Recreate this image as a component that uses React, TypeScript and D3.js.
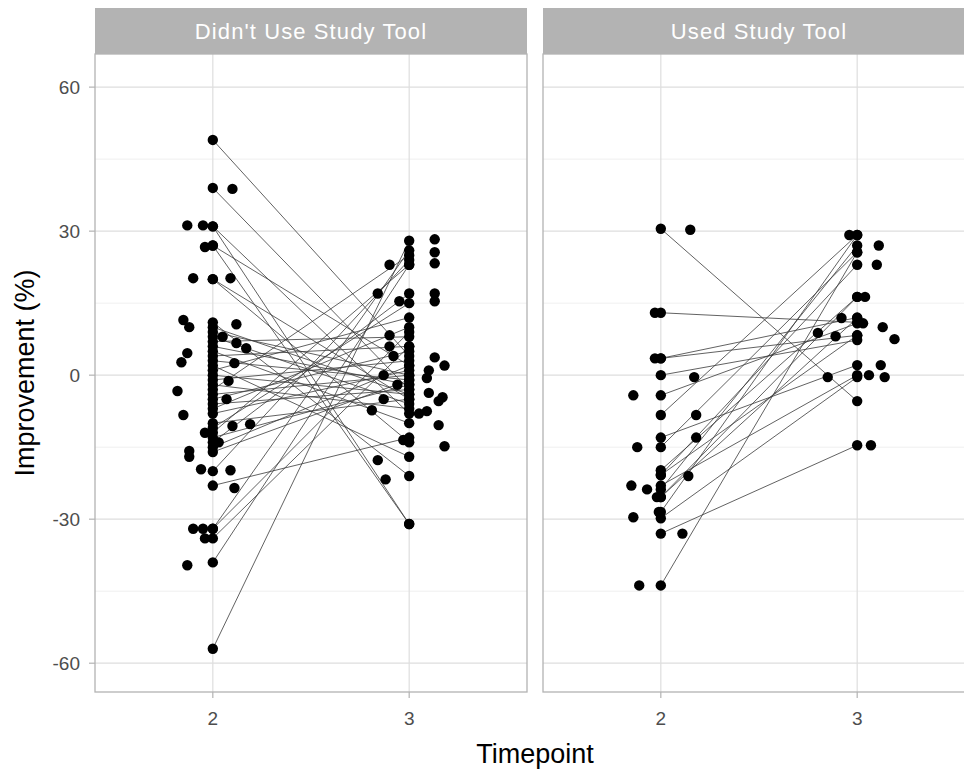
import React, { useEffect, useRef } from 'react';
import * as d3 from 'd3';

// facet labels
const facets = ["Didn't Use Study Tool", 'Used Study Tool'];
const timepoints = [2, 3];
const yTicks = [-60, -30, 0, 30, 60];
const yMinor = [-45, -15, 15, 45];

// paired observations [timepoint 2, timepoint 3] (lines + points at exact x)
const noToolPairs: [number, number][] = [
  [49, 4], [39, -3], [31, -31], [31, -8], [27, -31], [27, 2], [20, -14], [20, -5],
  [11, -21], [10, -4], [9, 0], [8, -6], [7, 8], [6, -2], [5, -10], [4, 6],
  [3, -1], [2, -17], [1, 12], [0, -4], [-1, 3], [-2, -7], [-3, 25], [-4, 0],
  [-5, 5], [-6, -3], [-7, 10], [-8, 1], [-10, -5], [-11, 15], [-12, 23], [-13, -2],
  [-14, 17], [-15, 2], [-16, -1], [-20, 24], [-23, -13], [-32, 26], [-32, 9],
  [-34, 6], [-39, 23], [-57, 28],
];
const toolPairs: [number, number][] = [
  [30.5, -5.4], [13, 11], [3.5, 8.3], [3.5, 12], [0, 7.3], [-4.2, 10.8], [-8.3, 29.2],
  [-13, 2.1], [-15, 25.6], [-19.8, 16.3], [-20.8, 23], [-23, 0], [-23.8, 27],
  [-25.4, 16.3], [-25.4, 11.9], [-28.5, 29.2], [-29.8, -0.4], [-33, -14.6],
  [-43.8, 25.6], [-20.8, 8.3],
];

// jittered observations [offset from timepoint, value]
const noToolJitter2: [number, number][] = [
  [-0.13, 31.2], [-0.05, 31.2], [0.1, 38.8], [-0.04, 26.7], [-0.1, 20.2], [0.09, 20.2],
  [-0.15, 11.5], [-0.12, 10], [0.12, 10.6], [0.12, 6.7], [0.17, 5.6], [-0.13, 4.6],
  [-0.16, 2.7], [0.11, 2.5], [0.08, -1.2], [-0.18, -3.3], [-0.15, -8.3], [0.1, -10.6],
  [0.19, -10.2], [-0.12, -15.8], [-0.12, -17], [-0.06, -19.6], [0.09, -19.8],
  [0.11, -23.5], [-0.1, -32], [-0.05, -32], [-0.04, -34], [-0.13, -39.6], [0.05, 8],
  [0.07, -5], [-0.04, -12], [0.03, -14],
];
const noToolJitter3: [number, number][] = [
  [0.13, 28.3], [0.13, 25.6], [0.13, 23.3], [0.13, 17], [0.13, 15.4], [-0.1, 23],
  [-0.16, 17], [-0.05, 15.4], [-0.1, 8.3], [0.13, 3.7], [0.18, 2], [0.1, 1],
  [0.09, -0.6], [0.1, -3.7], [0.17, -4.6], [0.15, -5.4], [0.09, -7.5], [0.15, -10.4],
  [0.18, -14.8], [-0.16, -17.7], [-0.12, -21.7], [-0.19, -7.3], [-0.13, 0],
  [-0.06, -2], [-0.1, 6], [-0.13, -5], [-0.03, -13.5], [-0.08, 4], [0.05, -8],
];
const toolJitter2: [number, number][] = [
  [0.15, 30.3], [-0.03, 13], [-0.03, 3.5], [0.17, -0.4], [-0.14, -4.2], [0.18, -8.3],
  [0.18, -13], [-0.12, -15], [0.14, -21], [-0.15, -23], [-0.07, -23.8], [-0.02, -25.4],
  [-0.14, -29.6], [0.11, -33], [-0.11, -43.8], [-0.01, -28.5],
];
const toolJitter3: [number, number][] = [
  [-0.04, 29.2], [0.11, 27], [0.1, 23], [0.04, 16.3], [-0.08, 11.9], [-0.2, 8.8],
  [-0.11, 8.1], [0.13, 10], [0.19, 7.5], [0.12, 2.1], [0.06, 0], [0.14, -0.4],
  [-0.15, -0.4], [0.07, -14.6], [0.03, 10.8],
];

const panels = [
  { label: facets[0], pairs: noToolPairs, jitter: [noToolJitter2, noToolJitter3] },
  { label: facets[1], pairs: toolPairs, jitter: [toolJitter2, toolJitter3] },
];

export default function App() {
  const ref = useRef<SVGSVGElement>(null);

  useEffect(() => {
    const svg = d3.select(ref.current);
    svg.selectAll('*').remove();

    const font = '"Liberation Sans", Arial, sans-serif';
    const top = 54, bottom = 692, stripTop = 8;
    const panelX = [95, 543];
    const panelW = 432;

    const y = d3.scaleLinear().domain([-66, 66.9]).range([bottom, top]);

    panels.forEach((p, i) => {
      const x0 = panelX[i];
      const x = d3.scaleLinear().domain([1.4, 3.6]).range([x0, x0 + panelW]);
      const g = svg.append('g');

      // strip
      g.append('rect').attr('x', x0).attr('y', stripTop)
        .attr('width', panelW).attr('height', top - stripTop).attr('fill', '#b3b3b3');
      g.append('text').attr('x', x0 + panelW / 2).attr('y', (stripTop + top) / 2)
        .attr('dy', '0.35em').attr('text-anchor', 'middle')
        .attr('fill', '#ffffff').style('font-family', font).style('font-size', '22px')
        .style('letter-spacing', '1.1px')
        .text(p.label);

      // grid
      g.selectAll('.minor').data(yMinor).join('line')
        .attr('x1', x0).attr('x2', x0 + panelW)
        .attr('y1', d => y(d)).attr('y2', d => y(d))
        .attr('stroke', '#ebebeb').attr('stroke-width', 0.8);
      g.selectAll('.major').data(yTicks).join('line')
        .attr('x1', x0).attr('x2', x0 + panelW)
        .attr('y1', d => y(d)).attr('y2', d => y(d))
        .attr('stroke', '#dedede').attr('stroke-width', 1.2);
      g.selectAll('.vmajor').data(timepoints).join('line')
        .attr('x1', d => x(d)).attr('x2', d => x(d))
        .attr('y1', top).attr('y2', bottom)
        .attr('stroke', '#dedede').attr('stroke-width', 1.2);

      // paired lines
      g.selectAll('.pair').data(p.pairs).join('line')
        .attr('x1', x(2)).attr('x2', x(3))
        .attr('y1', d => y(d[0])).attr('y2', d => y(d[1]))
        .attr('stroke', '#3a3a3a').attr('stroke-width', 0.8);

      // points
      const pts: [number, number][] = [];
      p.pairs.forEach(d => { pts.push([2, d[0]]); pts.push([3, d[1]]); });
      p.jitter[0].forEach(d => pts.push([2 + d[0], d[1]]));
      p.jitter[1].forEach(d => pts.push([3 + d[0], d[1]]));
      g.selectAll('.pt').data(pts).join('circle')
        .attr('cx', d => x(d[0])).attr('cy', d => y(d[1])).attr('r', 5.2)
        .attr('fill', '#000');

      // border
      g.append('rect').attr('x', x0).attr('y', top)
        .attr('width', panelW).attr('height', bottom - top)
        .attr('fill', 'none').attr('stroke', '#b3b3b3').attr('stroke-width', 1.3);

      // x axis
      g.selectAll('.xt').data(timepoints).join('line')
        .attr('x1', d => x(d)).attr('x2', d => x(d))
        .attr('y1', bottom).attr('y2', bottom + 6)
        .attr('stroke', '#b3b3b3').attr('stroke-width', 1.2);
      g.selectAll('.xl').data(timepoints).join('text')
        .attr('x', d => x(d)).attr('y', bottom + 26)
        .attr('dy', '0.35em').attr('text-anchor', 'middle')
        .attr('fill', '#4d4d4d').style('font-family', font).style('font-size', '19px')
        .text(d => d);
    });

    // y axis
    const ya = svg.append('g');
    ya.selectAll('line').data(yTicks).join('line')
      .attr('x1', panelX[0] - 6).attr('x2', panelX[0])
      .attr('y1', d => y(d)).attr('y2', d => y(d))
      .attr('stroke', '#b3b3b3').attr('stroke-width', 1.2);
    ya.selectAll('text').data(yTicks).join('text')
      .attr('x', panelX[0] - 15).attr('y', d => y(d))
      .attr('dy', '0.35em').attr('text-anchor', 'end')
      .attr('fill', '#4d4d4d').style('font-family', font).style('font-size', '19px')
      .text(d => d);

    // axis titles
    svg.append('text').attr('x', 535).attr('y', 763)
      .attr('text-anchor', 'middle').attr('fill', '#000')
      .style('font-family', font).style('font-size', '27px').text('Timepoint');
    svg.append('text')
      .attr('transform', `translate(25,${(top + bottom) / 2}) rotate(-90)`)
      .attr('dy', '0.35em').attr('text-anchor', 'middle').attr('fill', '#000')
      .style('font-family', font).style('font-size', '27px').text('Improvement (%)');
  }, []);

  return (
    <svg ref={ref} width={964} height={769}
      style={{ position: 'absolute', left: 0, top: 0, background: '#fff' }} />
  );
}
